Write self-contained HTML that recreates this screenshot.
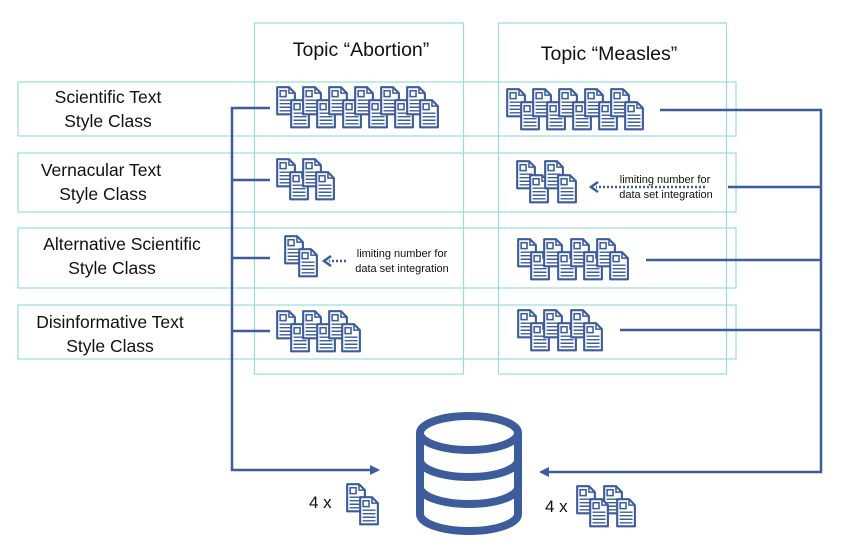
<!DOCTYPE html>
<html><head><meta charset="utf-8"><style>
html,body{margin:0;padding:0;background:#fff;}
svg{display:block;}
text{font-family:"Liberation Sans",sans-serif;fill:#111;}
</style></head><body>
<svg width="851" height="543" viewBox="0 0 851 543" xmlns="http://www.w3.org/2000/svg">
<defs>
<g id="d" transform="scale(1.18)">
<path d="M1,1 H11 L16,6 V24 H1 Z" fill="#fff" stroke="#3c5c9c" stroke-width="1.8" stroke-linejoin="round"/>
<path d="M11,1 V6 H16" fill="none" stroke="#3c5c9c" stroke-width="1.3"/>
<rect x="3.5" y="4" width="5" height="5" fill="none" stroke="#3c5c9c" stroke-width="1.3"/>
<path d="M3,12H14M3,15H14M3,18H14M3,21H14" stroke="#3c5c9c" stroke-width="1.2"/>
</g>
<marker id="ah" markerWidth="10" markerHeight="10" refX="8" refY="5" orient="auto" markerUnits="userSpaceOnUse"><path d="M0,0 L10,5 L0,10 Z" fill="#3c5c9c"/></marker>
</defs>
<g fill="none" stroke="#9adbe0" stroke-width="1.2">
<rect x="18" y="82" width="718" height="54"/>
<rect x="18" y="153" width="718" height="59"/>
<rect x="18" y="228" width="718" height="60"/>
<rect x="18" y="305" width="718" height="54"/>
<rect x="254.5" y="23" width="209" height="351"/>
<rect x="498.5" y="23" width="228" height="351"/>
</g>
<text x="361" y="56" font-size="19.5" text-anchor="middle">Topic “Abortion”</text>
<text x="609" y="60" font-size="19.5" text-anchor="middle">Topic “Measles”</text>
<g font-size="17.5" text-anchor="middle">
<text x="108" y="103">Scientific Text</text><text x="108" y="127">Style Class</text>
<text x="101" y="176">Vernacular Text</text><text x="103" y="200">Style Class</text>
<text x="122" y="250">Alternative Scientific</text><text x="112" y="274">Style Class</text>
<text x="110" y="328">Disinformative Text</text><text x="110" y="352">Style Class</text>
</g>
<g stroke="#3c5c9c" stroke-width="2.5" fill="none">
<path d="M270,108 H232 V470 H378" marker-end="url(#ah)"/>
<path d="M232,180 H270 M232,258 H270 M232,331 H270"/>
<path d="M660,110 H821 V472 H541" marker-end="url(#ah)"/>
<path d="M728,187 H821 M646,260 H821 M620,330 H821"/>
</g>
<g stroke="#3c5c9c" stroke-width="2.5" stroke-dasharray="2,2" fill="none">
<path d="M705,187 H596"/><path d="M346,261 H329"/>
</g>
<path d="M598,182 L591,187 L598,192" stroke="#3c5c9c" stroke-width="2.5" fill="none"/>
<path d="M331,256 L324,261 L331,266" stroke="#3c5c9c" stroke-width="2.5" fill="none"/>
<g font-size="11" text-anchor="middle">
<text x="665" y="183">limiting number for</text><text x="666" y="198">data set integration</text>
<text x="402" y="257">limiting number for</text><text x="402" y="272">data set integration</text>
</g>
<use href="#d" x="276" y="86"/><use href="#d" x="290" y="99"/>
<use href="#d" x="302" y="86"/><use href="#d" x="316" y="99"/>
<use href="#d" x="328" y="86"/><use href="#d" x="342" y="99"/>
<use href="#d" x="354" y="86"/><use href="#d" x="368" y="99"/>
<use href="#d" x="380" y="86"/><use href="#d" x="394" y="99"/>
<use href="#d" x="406" y="86"/><use href="#d" x="419" y="99"/>
<use href="#d" x="506" y="88"/><use href="#d" x="520" y="101"/>
<use href="#d" x="532" y="88"/><use href="#d" x="546" y="101"/>
<use href="#d" x="558" y="88"/><use href="#d" x="572" y="101"/>
<use href="#d" x="584" y="88"/><use href="#d" x="598" y="101"/>
<use href="#d" x="610" y="88"/><use href="#d" x="624" y="101"/>
<use href="#d" x="276" y="158"/><use href="#d" x="289" y="171"/>
<use href="#d" x="302" y="158"/><use href="#d" x="315" y="171"/>
<use href="#d" x="516" y="160"/><use href="#d" x="529" y="174"/>
<use href="#d" x="544" y="160"/><use href="#d" x="557" y="174"/>
<use href="#d" x="284" y="235"/><use href="#d" x="298" y="248"/>
<use href="#d" x="517" y="238"/><use href="#d" x="530" y="251"/>
<use href="#d" x="543" y="238"/><use href="#d" x="557" y="251"/>
<use href="#d" x="570" y="238"/><use href="#d" x="583" y="251"/>
<use href="#d" x="596" y="238"/><use href="#d" x="609" y="251"/>
<use href="#d" x="276" y="310"/><use href="#d" x="290" y="323"/>
<use href="#d" x="302" y="310"/><use href="#d" x="316" y="323"/>
<use href="#d" x="328" y="310"/><use href="#d" x="341" y="323"/>
<use href="#d" x="517" y="309"/><use href="#d" x="530" y="322"/>
<use href="#d" x="543" y="309"/><use href="#d" x="557" y="322"/>
<use href="#d" x="570" y="309"/><use href="#d" x="583" y="322"/>
<use href="#d" x="346" y="483"/><use href="#d" x="359" y="496"/>
<use href="#d" x="576" y="485"/><use href="#d" x="603" y="485"/>
<use href="#d" x="589" y="498"/><use href="#d" x="616" y="498"/>
<text x="309" y="508" font-size="17">4 x</text>
<text x="545" y="512" font-size="17">4 x</text>
<g stroke="#3c5c9c" stroke-width="8" fill="none">
<ellipse cx="469" cy="433" rx="49" ry="17"/>
<path d="M420,433 V514 A49,17 0 0 0 518,514 V433"/>
<path d="M420,460 A49,17 0 0 0 518,460"/>
<path d="M420,487 A49,17 0 0 0 518,487"/>
</g>
</svg>
</body></html>
